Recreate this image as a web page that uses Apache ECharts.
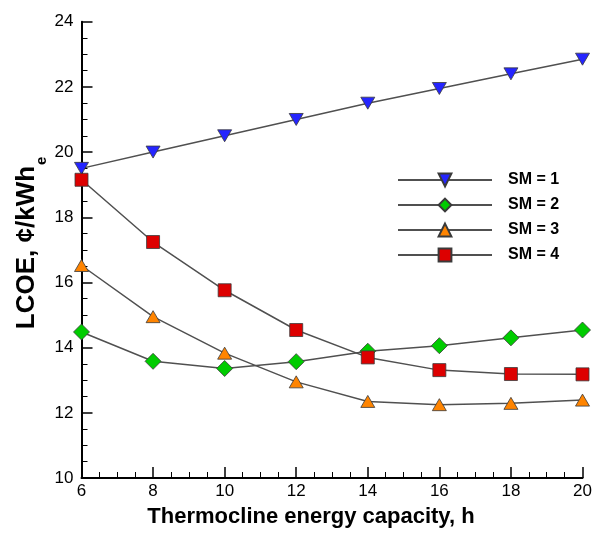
<!DOCTYPE html>
<html>
<head>
<meta charset="utf-8">
<script src="https://cdn.jsdelivr.net/npm/echarts@6/dist/echarts.min.js"></script>
<style>
  html, body { margin: 0; padding: 0; background: #fff; }
  #chart { width: 602px; height: 533px; }
</style>
</head>
<body>
<div id="chart"></div>
<script>
// storage hours on the x axis
const hours = [6, 8, 10, 12, 14, 16, 18, 20]
// LCOE per solar multiple, cents/kWhe
const sm1 = [19.5, 20.0, 20.5, 21.0, 21.5, 21.95, 22.4, 22.85]
const sm2 = [14.48, 13.58, 13.36, 13.57, 13.89, 14.06, 14.3, 14.54]
const sm3 = [16.52, 14.95, 13.83, 12.95, 12.35, 12.25, 12.29, 12.39]
const sm4 = [19.15, 17.24, 15.76, 14.54, 13.7, 13.31, 13.19, 13.18]
const seriesNames = ['SM = 1', 'SM = 2', 'SM = 3', 'SM = 4']

const font = 'Liberation Sans, Arial, Helvetica, sans-serif'
const lineGray = '#505050'

function pairs (ys) {
  return hours.map((h, i) => [h, ys[i]])
}

function makeSeries (name, ys, symbol, size, color, rotate) {
  return {
    name: name,
    type: 'line',
    data: pairs(ys),
    symbol: symbol,
    symbolSize: size,
    symbolRotate: rotate || 0,
    showAllSymbol: true,
    lineStyle: { color: lineGray, width: 1.5 },
    itemStyle: { color: color, borderColor: '#3a3a3a', borderWidth: 0.8 },
    emphasis: { disabled: true },
    z: 3
  }
}

const chart = echarts.init(document.getElementById('chart'))
const option = {
  animation: false,
  backgroundColor: '#fff',
  textStyle: { fontFamily: font },
  grid: { left: 81.5, right: 19.5, top: 21.7, bottom: 53.7 },
  legend: {
    left: 392,
    top: 167,
    orient: 'vertical',
    itemWidth: 94,
    itemHeight: 16,
    itemGap: 9,
    data: seriesNames,
    textStyle: { fontFamily: font, fontWeight: 'bold', fontSize: 16, color: '#000', lineHeight: 16, padding: [0, 0, 0, 11] }
  },
  xAxis: {
    type: 'value',
    min: 6,
    max: 20,
    interval: 2,
    name: 'Thermocline energy capacity, h',
    nameLocation: 'middle',
    nameGap: 28,
    nameMoveOverlap: false,
    nameTextStyle: { fontFamily: font, fontWeight: 'bold', fontSize: 22, color: '#000', padding: [0, 42, 0, 0] },
    axisLine: { onZero: false, lineStyle: { color: '#000', width: 2 } },
    axisTick: { inside: true, length: 11, lineStyle: { color: '#000', width: 1.5 } },
    minorTick: { show: true, splitNumber: 4, length: 6, lineStyle: { color: '#000', width: 1 } },
    axisLabel: { fontFamily: font, fontSize: 17, color: '#000', margin: 5 },
    splitLine: { show: false }
  },
  yAxis: {
    type: 'value',
    min: 10,
    max: 24,
    interval: 2,
    name: '{a|LCOE, ¢/kWh}{sub|e}',
    nameLocation: 'middle',
    nameRotate: 90,
    nameGap: 42,
    nameMoveOverlap: false,
    nameTextStyle: {
      padding: [0, 0, 0, 14],
      rich: {
        a: { fontFamily: font, fontWeight: 'bold', fontSize: 26, color: '#000', lineHeight: 26, verticalAlign: 'top' },
        sub: { fontFamily: font, fontWeight: 'bold', fontSize: 15, color: '#000', lineHeight: 15, verticalAlign: 'top', padding: [21, 0, 0, 1] }
      }
    },
    axisLine: { onZero: false, lineStyle: { color: '#000', width: 2 } },
    axisTick: { inside: true, length: 11, lineStyle: { color: '#000', width: 1.5 } },
    minorTick: { show: true, splitNumber: 4, length: 6, lineStyle: { color: '#000', width: 1 } },
    axisLabel: { fontFamily: font, fontSize: 17, color: '#000', margin: 8 },
    splitLine: { show: false }
  },
  series: [
    makeSeries(seriesNames[0], sm1, 'triangle', [14, 12], '#2525ff', 180),
    makeSeries(seriesNames[1], sm2, 'diamond', [16, 16], '#00cc00'),
    makeSeries(seriesNames[2], sm3, 'triangle', [14, 12], '#ff8400'),
    makeSeries(seriesNames[3], sm4, 'rect', [13, 13], '#dd0000')
  ]
}
chart.setOption(option)
window.addEventListener('resize', () => chart.resize())
</script>
</body>
</html>
